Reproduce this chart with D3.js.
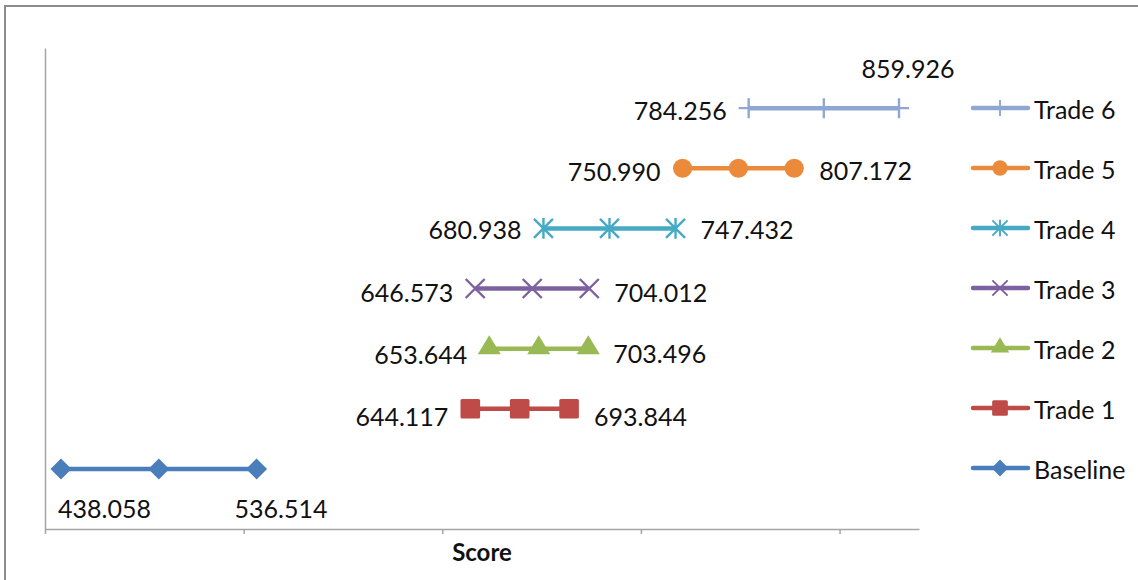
<!DOCTYPE html>
<html>
<head>
<meta charset="utf-8">
<script src="https://cdn.jsdelivr.net/npm/d3@7"></script>
<style>
  html, body { margin: 0; padding: 0; background: #ffffff; }
  svg { display: block; }
  text { font-family: Lato, "Open Sans", "Noto Sans", sans-serif; fill: #111111; }
</style>
</head>
<body>
<svg id="chart" width="1138" height="580"></svg>
<script>
// Score ranges per scenario: low, middle and high score, one row each
const seriesNames = ["Baseline", "Trade 1", "Trade 2", "Trade 3", "Trade 4", "Trade 5", "Trade 6"];
const rowValues   = [1, 2, 3, 4, 5, 6, 7];
const lowScores   = [438.058, 644.117, 653.644, 646.573, 680.938, 750.990, 784.256];
const midScores   = [487.286, 668.981, 678.570, 675.293, 714.185, 779.081, 822.091];
const highScores  = [536.514, 693.844, 703.496, 704.012, 747.432, 807.172, 859.926];
const xTickValues = [430, 530, 630, 730, 830];
const xDomain     = [430, 870];
const yDomain     = [0, 8];
const axisTitle   = "Score";

// Series styling
const colors  = ["#4A7EBB", "#BE4B48", "#98B954", "#7D60A0", "#46AAC5", "#EC8A3C", "#8FA8D3"];
const markers = ["diamond", "square", "triangle", "x", "star", "circle", "plus"];
// Where each series puts its low / high value labels
const labelPlacement = [
  { low: { pos: "below", dx: -3, dy: 39 }, high: { pos: "below", dx: -22, dy: 39 } },
  { low: { pos: "left", dy: 7 },  high: { pos: "right", dy: 7 } },
  { low: { pos: "left", dy: 5 },  high: { pos: "right", dy: 4 } },
  { low: { pos: "left", dy: 3 },  high: { pos: "right", dy: 3 } },
  { low: { pos: "left", dy: 1 },  high: { pos: "right", dy: 1 } },
  { low: { pos: "left", dy: 3 },  high: { pos: "right", dy: 2 } },
  { low: { pos: "left", dy: 2 },  high: { pos: "above", dx: 9, dy: -40 } }
];

const svg = d3.select("#chart");
const W = 1138, H = 580;
const plot = { left: 45, right: 919, top: 48, bottom: 529 };

// Outer chart frame (only top and left edges fall inside the view)
svg.append("rect")
  .attr("x", 5).attr("y", 6).attr("width", W + 20).attr("height", H + 20)
  .attr("fill", "none").attr("stroke", "#8C8C8C").attr("stroke-width", 2);

const x = d3.scaleLinear().domain(xDomain).range([plot.left, plot.right]);
const y = d3.scaleLinear().domain(yDomain).range([plot.bottom, plot.top]);

const axisColor = "#A5A5A5";

// Vertical axis line, no ticks
const yAxis = svg.append("g").attr("transform", `translate(${plot.left},0)`)
  .call(d3.axisLeft(y).tickValues([]).tickSizeOuter(0));
yAxis.select(".domain").attr("stroke", axisColor).attr("stroke-width", 1.5);

// Horizontal axis with unlabeled ticks
const xAxis = svg.append("g").attr("transform", `translate(0,${plot.bottom})`)
  .call(d3.axisBottom(x).tickValues(xTickValues).tickSize(5).tickSizeOuter(0).tickFormat(""));
xAxis.select(".domain").attr("stroke", axisColor).attr("stroke-width", 1.5);
xAxis.selectAll(".tick line").attr("stroke", axisColor).attr("stroke-width", 1.5);

svg.append("text")
  .attr("x", (plot.left + plot.right) / 2).attr("y", 551)
  .attr("text-anchor", "middle").attr("dominant-baseline", "central")
  .attr("font-size", 24).attr("font-weight", "bold")
  .text(axisTitle);

// Marker drawing
function drawMarker(g, type, color, s) {
  const sw = 2.4 * s;
  switch (type) {
    case "diamond": {
      const r = 10.5 * s;
      g.append("path").attr("d", `M0,${-r}L${r},0L0,${r}L${-r},0Z`).attr("fill", color);
      break;
    }
    case "square": {
      const h = 9.8 * s;
      g.append("rect").attr("x", -h).attr("y", -h).attr("width", 2 * h).attr("height", 2 * h)
        .attr("rx", 1.5).attr("fill", color);
      break;
    }
    case "triangle": {
      const w = 11.5 * s, up = 13.5 * s, dn = 5.5 * s;
      g.append("path").attr("d", `M0,${-up}L${w},${dn}L${-w},${dn}Z`).attr("fill", color);
      break;
    }
    case "circle":
      g.append("circle").attr("r", 9.6 * s).attr("fill", color);
      break;
    case "x": {
      const r = 9.5 * s;
      g.append("path").attr("d", `M${-r},${-r}L${r},${r}M${-r},${r}L${r},${-r}`)
        .attr("stroke", color).attr("stroke-width", sw).attr("fill", "none");
      break;
    }
    case "star": {
      const r = 9.5 * s;
      g.append("path").attr("d", `M${-r},${-r}L${r},${r}M${-r},${r}L${r},${-r}M0,${-r * 1.1}L0,${r * 1.1}`)
        .attr("stroke", color).attr("stroke-width", sw).attr("fill", "none");
      break;
    }
    case "plus": {
      const r = 10 * s;
      g.append("path").attr("d", `M0,${-r}L0,${r}M${-r},0L${r},0`)
        .attr("stroke", color).attr("stroke-width", sw).attr("fill", "none");
      break;
    }
  }
}

const fmt = d3.format(".3f");
const labelSize = 25;

const line = d3.line().x(d => x(d)).y(0);

seriesNames.forEach((name, i) => {
  const vals = [lowScores[i], midScores[i], highScores[i]];
  const g = svg.append("g").attr("transform", `translate(0,${y(rowValues[i])})`);
  g.append("path").attr("d", line(vals))
    .attr("fill", "none").attr("stroke", colors[i]).attr("stroke-width", 4.5);
  vals.forEach(v => {
    drawMarker(g.append("g").attr("transform", `translate(${x(v)},0)`), markers[i], colors[i], 1);
  });

  // Value labels for the low and high ends
  [["low", lowScores[i]], ["high", highScores[i]]].forEach(([key, v]) => {
    const p = labelPlacement[i][key];
    let tx = x(v), anchor = "middle";
    if (p.pos === "left") { tx -= 22; anchor = "end"; }
    else if (p.pos === "right") { tx += 25; anchor = "start"; }
    else if (p.pos === "below") { tx += p.dx; anchor = "start"; }
    else if (p.pos === "above") { tx += p.dx; anchor = "middle"; }
    g.append("text")
      .attr("x", tx).attr("y", p.dy)
      .attr("text-anchor", anchor).attr("dominant-baseline", "central")
      .attr("font-size", labelSize)
      .text(fmt(v));
  });
});

// Legend, top entry is the last series
const legend = svg.append("g");
seriesNames.slice().reverse().forEach((name, k) => {
  const i = seriesNames.length - 1 - k;
  const ly = 108 + k * 60;
  const lg = legend.append("g").attr("transform", `translate(0,${ly})`);
  lg.append("line").attr("x1", 973).attr("x2", 1028).attr("y1", 0).attr("y2", 0)
    .attr("stroke", colors[i]).attr("stroke-width", 4.5).attr("stroke-linecap", "round");
  drawMarker(lg.append("g").attr("transform", "translate(1000,0)"), markers[i], colors[i], 0.8);
  lg.append("text").attr("x", 1034).attr("y", 1)
    .attr("dominant-baseline", "central").attr("font-size", labelSize)
    .text(name);
});
</script>
</body>
</html>
